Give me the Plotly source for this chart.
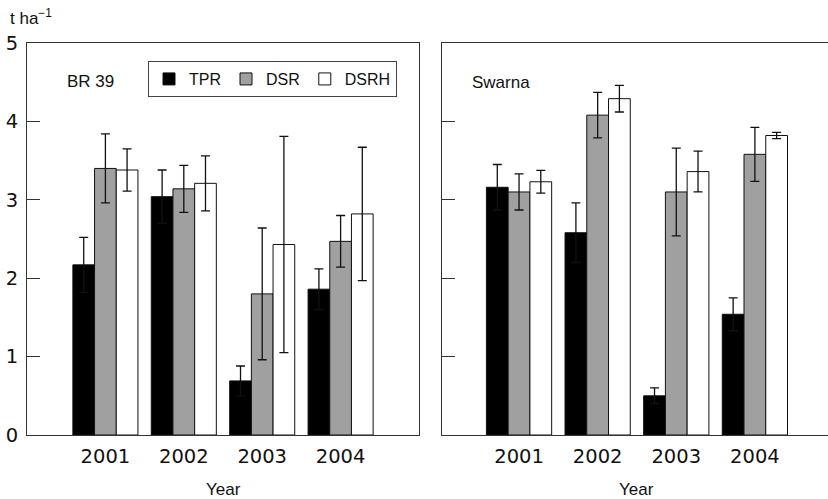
import plotly.graph_objects as go

years = ['2001', '2002', '2003', '2004']
x_pos = [0, 1, 2, 3]
methods = ['TPR', 'DSR', 'DSRH']
fill_colors = {'TPR': '#000000', 'DSR': '#a0a0a0', 'DSRH': '#ffffff'}

# BR 39 yields (t/ha) and error bars
br39_tpr = [2.17, 3.04, 0.69, 1.86]
br39_tpr_err = [0.35, 0.34, 0.19, 0.26]
br39_dsr = [3.40, 3.14, 1.80, 2.47]
br39_dsr_err = [0.44, 0.30, 0.84, 0.33]
br39_dsrh = [3.38, 3.21, 2.43, 2.82]
br39_dsrh_err = [0.27, 0.35, 1.38, 0.85]

# Swarna yields (t/ha) and error bars
swarna_tpr = [3.16, 2.58, 0.50, 1.54]
swarna_tpr_err = [0.29, 0.38, 0.10, 0.21]
swarna_dsr = [3.10, 4.08, 3.10, 3.58]
swarna_dsr_err = [0.23, 0.29, 0.56, 0.345]
swarna_dsrh = [3.23, 4.29, 3.36, 3.82]
swarna_dsrh_err = [0.145, 0.17, 0.26, 0.04]

panels = [
    ('x', 'y', [br39_tpr, br39_dsr, br39_dsrh], [br39_tpr_err, br39_dsr_err, br39_dsrh_err], True),
    ('x2', 'y2', [swarna_tpr, swarna_dsr, swarna_dsrh], [swarna_tpr_err, swarna_dsr_err, swarna_dsrh_err], False),
]

fig = go.Figure()
for xa, ya, vals, errs, show in panels:
    for m, v, e in zip(methods, vals, errs):
        fig.add_trace(go.Bar(
            x=x_pos, y=v, name=m, xaxis=xa, yaxis=ya, showlegend=show,
            offsetgroup=m, legendgroup=m,
            marker=dict(color=fill_colors[m], line=dict(color='#111111', width=1)),
            error_y=dict(type='data', array=e, visible=True, color='#111111',
                         thickness=1.3, width=4.5),
        ))

tick_font = dict(family='DejaVu Sans', size=19.5, color='#111111')
line_col = '#333333'

fig.update_layout(
    width=828, height=499,
    margin=dict(l=27, r=0, t=43, b=64, autoexpand=False),
    paper_bgcolor='white', plot_bgcolor='white',
    font=dict(family='Liberation Sans', size=17, color='#111111'),
    barmode='group', bargap=0.17, bargroupgap=0,
    showlegend=True,
    legend=dict(orientation='h', x=0.3065, y=0.954, xanchor='center', yanchor='top',
                bordercolor='#444444', borderwidth=1, bgcolor='white',
                font=dict(family='Liberation Sans', size=16, color='#111111'),
                traceorder='normal', itemwidth=30),
    xaxis=dict(domain=[0, 0.4894], range=[-1, 4], tickvals=x_pos, ticktext=years,
               ticks='', showline=True, mirror=True, linecolor=line_col, linewidth=1,
               showgrid=False, zeroline=False, tickfont=tick_font, automargin=False,
               ticklabelstandoff=4),
    yaxis=dict(domain=[0, 1], range=[0, 5], tickvals=[0, 1, 2, 3, 4, 5],
               ticks='inside', ticklen=13, tickcolor=line_col, showline=True, mirror=True,
               linecolor=line_col, linewidth=1, showgrid=False, zeroline=False,
               tickfont=tick_font, ticklabelstandoff=4, automargin=False),
    xaxis2=dict(domain=[0.5181, 1], range=[-0.98, 3.93], tickvals=x_pos, ticktext=years,
                ticks='', showline=True, mirror=True, linecolor=line_col, linewidth=1,
                showgrid=False, zeroline=False, tickfont=tick_font, anchor='y2',
                automargin=False, ticklabelstandoff=4),
    yaxis2=dict(domain=[0, 1], range=[0, 5], tickvals=[0, 1, 2, 3, 4, 5],
                ticks='inside', ticklen=13, tickcolor=line_col, showline=True, mirror=False,
                linecolor=line_col, linewidth=1, showgrid=False, zeroline=False,
                showticklabels=False, anchor='x2', automargin=False),
)

fig.add_annotation(text='t ha<sup>\u22121</sup>', xref='paper', yref='paper',
                   x=-0.024, y=1.066, xanchor='left', yanchor='middle', showarrow=False,
                   font=dict(size=17))
fig.add_annotation(text='BR 39', xref='x domain', yref='y domain', x=0.097, y=0.903,
                   xanchor='left', yanchor='middle', showarrow=False)
fig.add_annotation(text='Swarna', xref='x2 domain', yref='y2 domain', x=0.073, y=0.90,
                   xanchor='left', yanchor='middle', showarrow=False)
for xa in ['x', 'x2']:
    fig.add_annotation(text='Year', xref=xa, yref='paper', x=1.5, y=-0.14,
                       xanchor='center', yanchor='middle', showarrow=False)

# page body has a default 8px margin; remove it so the figure sits at the window corner
fig.write_html('out.html', config={'displayModeBar': False},
               post_script="document.body.style.margin='0';")
